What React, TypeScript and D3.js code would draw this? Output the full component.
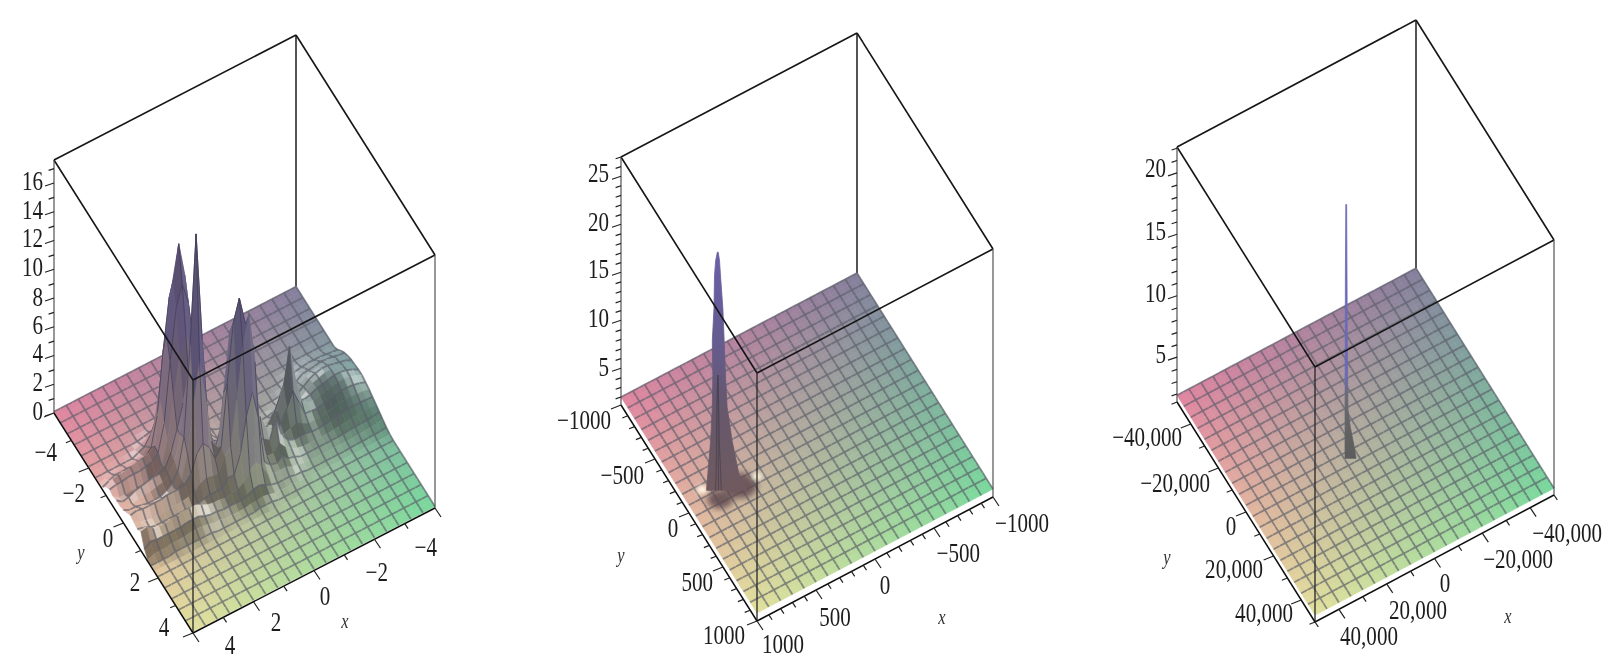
import * as d3 from 'd3';

// grid of the surface: 41 x 41 vertices, a mesh line on every second one
const GRID = 40;

// heights of the first plot, rows for y index 10..28 (flat elsewhere)
const firstBase = 0.1;
const firstFirstRow = 10;
const firstRows: number[][] = [
  [.1,.1,.1,.1,.1,.1,.1,.1,.1,.1, .1,.1,.1,.1,.1,.1,.1,.1,.1,.1, .1,.1,.1,.1,.1,.2,.3,.4,.5,.4, .3,.2,.1,.1,.1,.1,.1,.1,.1,.1,.1],
  [.1,.2,.2,.3,.3,.3,.2,.2,.2,.1, .1,.1,.1,.1,.1,.1,.1,.1,.1,.1, .1,.1,.1,.1,.3,.5,.8,1.1,1.3,1.1, .8,.5,.3,.1,.1,.1,.1,.1,.1,.1,.1],
  [.3,.35,.4,.45,.45,.45,.4,.3,.25,.2, .1,.1,.1,.1,.1,.1,.1,.1,.1,.1, .1,.1,.1,.3,.6,1.2,2,3,3.5,3, 2,1.1,.5,.3,.1,.1,.1,.1,.1,.1,.1],
  [.6,.7,.75,.8,.8,.75,.7,.6,.4,.3, .2,.1,.1,.1,.1,.1,.1,.1,.1,.1, .1,.1,.1,.4,.9,2,4.5,7.5,9,7.5, 4.5,2,.9,.5,.4,.4,.4,.3,.3,.2,.1],
  [.85,.9,1,1.05,1.1,1,.95,.9,.6,.4, .25,.15,.1,.1,.1,.1,.1,.1,.1,.1, .1,.1,.3,.6,1.2,3.2,7.5,11,12.5,11, 7.5,3.2,1.2,.8,.7,.6,.6,.6,.6,.4,.2],
  [1,1.1,1.3,1.4,1.4,1.3,1.2,1.1,.8,.6, .35,.2,.2,.1,.1,.1,.1,.1,.1,.1, .1,.1,.3,.7,1.5,4.5,9,12.5,14.9,12.5, 9,4.5,1.7,1.4,1.3,1.2,1.1,1,1,.9,.6],
  [1.1,1.3,1.4,1.5,1.6,1.6,1.5,1.3,1,.7, .5,.4,.4,.3,.2,.2,.2,.2,.2,.2, .2,.2,.4,.8,1.6,3.4,7.5,11,12.5,11, 7.5,3.4,1.6,1.2,1.1,1,1,1,.9,.9,.8],
  [1.15,1.4,1.55,1.65,1.7,1.7,1.55,1.4,1.1,.8, .8,1,1,.8,.5,.3,.3,.3,.4,.4, .4,.4,.6,1,1.4,2.6,5.5,8,9.5,8, 5.5,2.6,1.1,.7,.5,.4,.4,.4,.4,.4,.7],
  [1.2,1.45,1.6,1.7,1.7,1.6,1.5,1.4,1.2,1.1, 1.2,2.2,3.2,2.2,1.2,.6,.5,.5,.6,.6, .7,.8,1,1.3,1.5,2.2,3.6,5.2,6.2,5.2, 3.6,2.2,1.3,1.1,1.1,1,.9,.8,.6,.5,.8],
  [1.2,1.4,1.55,1.6,1.6,1.5,1.4,1.3,1.2,1.2, 1.6,3.3,5.8,3.3,1.7,1,.8,.8,1,1.1, 1.4,1.6,2.4,2,1.5,1.9,3.6,6.8,10,6.8, 3.6,1.9,1.2,.9,.8,.7,.7,.6,.5,.5,.8],
  [1.1,1.25,1.35,1.4,1.4,1.3,1.2,1.1,1,1.05, 1.1,2.1,3.1,2.1,1.2,.9,1,1.2,1.5,1.6, 3,6,7,6,3,1.8,3.8,10,17.5,10, 3.8,1.7,1,.7,.5,.5,.5,.6,.7,.7,.9],
  [1,1.05,1.1,1.15,1.15,1.1,1,.9,.8,.8, .8,1,1.3,1.1,.9,1,1.7,2,3,2.4, 5.5,9,10.5,10,6,2.4,3,6.2,9,6.2, 3,1.4,1,.9,.8,.8,.8,.9,1,1,1.1],
  [.85,.88,.9,.9,.9,.85,.8,.7,.6,.6, .6,.7,.7,.7,.9,1.5,2.8,1.5,1.8,2.2, 7,10.5,12.5,11,7,2.8,2.2,3.2,3.7,3.2, 2,1.5,1.4,1.4,1.4,1.3,1.3,1.3,1.3,1.4,1.3],
  [.7,.68,.65,.62,.6,.55,.5,.45,.4,.4, .4,.4,.4,.5,.7,1,1.5,1,1,2, 8,11.5,9.5,6,3,2.5,1.5,1.6,1.7,1.5, 1.1,1,.9,.9,.9,.8,.8,.8,.9,1,1.2],
  [.55,.5,.45,.42,.4,.37,.33,.3,.3,.3, .3,.3,.3,.3,.5,.6,1,.7,.8,1.2, 4.5,6.5,5,2.6,1.4,1.4,.9,.9,.9,.8, .7,.7,.7,.7,.7,.7,.7,.7,.8,1,1.1],
  [.4,.35,.3,.28,.25,.22,.2,.2,.2,.2, .2,.2,.2,.2,.3,.4,.6,.6,.6,.7, 1.5,2,1.6,1,.8,.7,.6,.7,.7,.8, 1,1.2,1.2,1.2,1.1,1.1,1,1,1.1,1.4,1.3],
  [.25,.2,.18,.17,.15,.15,.12,.1,.1,.1, .1,.1,.1,.1,.2,.2,.3,.3,.3,.4, .6,.8,.7,.5,.4,.4,.4,.4,.5,.5, .6,.8,.8,.8,.7,.7,.7,.7,.7,.8,.5],
  [.15,.12,.1,.1,.1,.1,.1,.1,.1,.1, .1,.1,.1,.1,.1,.1,.2,.2,.2,.2, .3,.4,.3,.3,.2,.2,.2,.2,.3,.3, .4,.5,.5,.5,.4,.4,.4,.3,.3,.3,.1],
  [.1,.1,.1,.1,.1,.1,.1,.1,.1,.1, .1,.1,.1,.1,.1,.1,.1,.1,.1,.1, .2,.2,.2,.1,.1,.1,.1,.1,.1,.1, .2,.2,.2,.2,.2,.2,.2,.1,.1,.1,.1],
];

// spike of the second plot: height level, extent left and right of its centre (x units)
const secondLevels = [26.1, 25.2, 23.7, 20.2, 16.8, 13.3, 9.9, 6.4, 3, 1.3];
const secondLeft = [3, 12, 18, 21, 30, 27, 30, 39, 54, 61];
const secondRight = [2, 9, 14, 27, 34, 41, 50, 77, 113, 158];
// shadow and glint patches round its foot
const secondPatchX = [600, 780, 855, 453];
const secondPatchY = [50, 75, -60, 50];
const secondPatchR = [95, 70, 30, 28];
const secondPatchKind = ['dark', 'dark', 'light', 'light'];

// spike of the third plot
const thirdLevels = [21.9, 16, 10.6, 5.2, 3.85, 2.5, 1.25];
const thirdLeft = [60, 170, 210, 260, 260, 260, 260];
const thirdRight = [170, 260, 340, 520, 1100, 1960, 2640];

const firstXTicks = ['4', '2', '0', '−2', '−4'];
const firstYTicks = ['−4', '−2', '0', '2', '4'];
const firstZTicks = ['0', '2', '4', '6', '8', '10', '12', '14', '16'];
const secondXTicks = ['1000', '500', '0', '−500', '−1000'];
const secondYTicks = ['−1000', '−500', '0', '500', '1000'];
const secondZTicks = ['5', '10', '15', '20', '25'];
const thirdXTicks = ['40,000', '20,000', '0', '−20,000', '−40,000'];
const thirdYTicks = ['−40,000', '−20,000', '0', '20,000', '40,000'];
const thirdZTicks = ['5', '10', '15', '20'];

type Spot = [number, number, 'middle' | 'end'];

interface PanelSpec {
  front: [number, number];
  ax: [number, number];
  by: [number, number];
  span: number;
  xRange: number;
  zDomain: [number, number];
  base: number;
  rows?: number[][];
  rowOffset?: number;
  xMajor: number;
  xMinor: number;
  zMajor: number;
  zMinor: number;
  xLabels: string[];
  yLabels: string[];
  zLabels: string[];
  xSpots: Spot[];
  ySpots: Spot[];
  zSpots: Spot[];
  xName: [number, number];
  yName: [number, number];
  spike?: { x: number; y: number; levels: number[]; left: number[]; right: number[]; stops: [number, string][]; mesh: number[] };
  patches?: { x: number; y: number; r: number; kind: string }[];
}

const panels: PanelSpec[] = [
  {
    front: [193, 633], ax: [242, -125], by: [-139, -220], span: 253, xRange: 4, zDomain: [0, 17.6],
    base: firstBase, rows: firstRows, rowOffset: firstFirstRow,
    xMajor: 2, xMinor: 1, zMajor: 2, zMinor: 1,
    xLabels: firstXTicks, yLabels: firstYTicks, zLabels: firstZTicks,
    xSpots: [[230, 645, 'middle'], [276, 622, 'middle'], [325, 596, 'middle'], [388, 572, 'end'], [437, 547, 'end']],
    ySpots: [[57, 452, 'end'], [85, 493, 'end'], [108, 538, 'middle'], [135, 582, 'middle'], [164, 627, 'middle']],
    zSpots: [411, 382, 353, 325, 297, 267, 238, 210, 181].map((y) => [43, y, 'end'] as Spot),
    xName: [345, 622], yName: [81, 553],
  },
  {
    front: [757, 621], ax: [236, -124], by: [-136, -216], span: 248, xRange: 1000, zDomain: [1.17, 27],
    base: 2,
    xMajor: 500, xMinor: 100, zMajor: 5, zMinor: 1,
    xLabels: secondXTicks, yLabels: secondYTicks, zLabels: secondZTicks,
    xSpots: [[783, 644, 'middle'], [835, 617, 'middle'], [885, 585, 'middle'], [980, 553, 'end'], [1049, 523, 'end']],
    ySpots: [[611, 420, 'end'], [644, 475, 'end'], [673, 528, 'middle'], [713, 582, 'end'], [745, 635, 'end']],
    zSpots: [367, 318, 269, 222, 173].map((y) => [609, y, 'end'] as Spot),
    xName: [942, 618], yName: [621, 556],
    spike: {
      x: 730, y: -44, levels: secondLevels, left: secondLeft, right: secondRight,
      stops: [[0, '#6a5fa6'], [0.38, '#655b90'], [0.62, '#66596f'], [1, '#6f5a5e']], mesh: [-0.45, 0.1, 0.55],
    },
    patches: secondPatchX.map((x, k) => ({ x, y: secondPatchY[k], r: secondPatchR[k], kind: secondPatchKind[k] })),
  },
  {
    front: [1315, 622], ax: [239, -127], by: [-138, -220], span: 255, xRange: 50000, zDomain: [1.35, 22.1],
    base: 1.9,
    xMajor: 20000, xMinor: 10000, zMajor: 5, zMinor: 1,
    xLabels: thirdXTicks, yLabels: thirdYTicks, zLabels: thirdZTicks,
    xSpots: [[1369, 636, 'middle'], [1418, 610, 'middle'], [1445, 583, 'middle'], [1553, 559, 'end'], [1602, 533, 'end']],
    ySpots: [[1182, 437, 'end'], [1210, 483, 'end'], [1231, 526, 'middle'], [1263, 569, 'end'], [1293, 613, 'end']],
    zSpots: [354, 293, 231, 168].map((y) => [1166, y, 'end'] as Spot),
    xName: [1508, 617], yName: [1167, 558],
    spike: {
      x: 7800, y: -600, levels: thirdLevels, left: thirdLeft, right: thirdRight,
      stops: [[0, '#6c6ab8'], [0.68, '#6a6ab4'], [0.76, '#6a6a70'], [1, '#5c5c5c']], mesh: [],
    },
  },
];

// colours of the four corners of the surface
const cornerFront = [226, 224, 156];
const cornerRight = [120, 216, 156];
const cornerLeft = [224, 132, 160];
const cornerBack = [132, 126, 156];
const peakTint = [112, 102, 160];

const FONT = '"Liberation Serif", serif';
const NARROW = 0.78;

const mix = (a: number, b: number, t: number) => a + (b - a) * t;
const gridClamp = (v: number) => Math.max(0, Math.min(GRID, v));

function Panel({ spec, index }: { spec: PanelSpec; index: number }) {
  const { front, ax, by, span, xRange, zDomain, base, rows, rowOffset = 0 } = spec;
  const xFrac = d3.scaleLinear().domain([xRange, -xRange]).range([0, 1]);
  const yFrac = d3.scaleLinear().domain([xRange, -xRange]).range([0, 1]);
  const zPx = d3.scaleLinear().domain(zDomain).range([0, span]);
  const gridX = d3.scaleLinear().domain([0, GRID]).range([-xRange, xRange]);

  const project = (x: number, y: number, z: number): [number, number] => {
    const a = xFrac(x);
    const b = yFrac(y);
    return [front[0] + a * ax[0] + b * by[0], front[1] + a * ax[1] + b * by[1] - zPx(z)];
  };
  const height = (i: number, j: number) => rows?.[gridClamp(j) - rowOffset]?.[gridClamp(i)] ?? base;
  const vertex = (i: number, j: number) => project(gridX(i), gridX(j), height(i, j));
  const path = d3.line();

  const stepPx = (Math.hypot(ax[0], ax[1]) / GRID) * 0.95;
  const zUnit = span / (zDomain[1] - zDomain[0]);

  const cells: JSX.Element[] = [];
  for (let i = 0; i < GRID; i++) {
    for (let j = 0; j < GRID; j++) {
      const h00 = height(i, j);
      const h10 = height(i + 1, j);
      const h01 = height(i, j + 1);
      const h11 = height(i + 1, j + 1);
      // slope over three cells, so the light does not flicker from cell to cell
      const gx = ((height(i + 2, j) + height(i + 2, j + 1) - height(i - 1, j) - height(i - 1, j + 1)) / 6) * zUnit / stepPx;
      const gy = ((height(i, j + 2) + height(i + 1, j + 2) - height(i, j - 1) - height(i + 1, j - 1)) / 6) * zUnit / stepPx;
      const len = Math.hypot(gx, gy, 1);
      const nx = -gx / len;
      const ny = -gy / len;
      const toward = (nx + ny) / Math.SQRT2;
      const side = Math.abs(nx - ny) / Math.SQRT2;

      const a = 1 - (i + 0.5) / GRID;
      const b = 1 - (j + 0.5) / GRID;
      const z = (h00 + h10 + h01 + h11) / 4 - base;
      const t = Math.min(1, Math.max(0, z / 10)) * 0.85;
      const rgb = [0, 1, 2].map((c) =>
        mix(mix(mix(cornerFront[c], cornerRight[c], a), mix(cornerLeft[c], cornerBack[c], a), b), peakTint[c], t),
      );
      const dark = toward > 0 ? 1 - 1 * Math.min(0.42, toward) : 1 + 0.08 * Math.min(1, -toward);
      const glint = Math.exp(-(((side - 0.38) / 0.18) ** 2)) * Math.exp(-((toward / 0.22) ** 2)) * 0.5;
      const steep = Math.min(1, Math.max(0, (len - 1.8) / 2));
      const shade = mix(dark, 0.72 + 0.12 * side, steep);
      const col = rgb.map((v) => mix(Math.min(255, v * shade), 250, glint * (1 - steep)));
      const fill = d3.rgb(col[0], col[1], col[2]).formatRgb();

      const p00 = vertex(i, j);
      const p10 = vertex(i + 1, j);
      const p01 = vertex(i, j + 1);
      const p11 = vertex(i + 1, j + 1);
      cells.push(<path key={`c${i}-${j}`} d={path([p00, p10, p11, p01])! + 'Z'} fill={fill} stroke={fill} strokeWidth={0.6} />);
      let mesh = '';
      if (i % 2 === 0) mesh += path([p00, p01]);
      if (j % 2 === 0) mesh += path([p00, p10]);
      if (mesh) {
        const thin = steep > 0.2;
        cells.push(
          <path
            key={`m${i}-${j}`}
            d={mesh}
            fill="none"
            stroke={thin ? '#423d55' : '#5a5c68'}
            strokeWidth={thin ? 1 : 1.8}
            strokeOpacity={thin ? 0.7 : 0.66}
          />,
        );
      }
    }
  }

  const [xMin, xMax] = [-xRange, xRange];
  const [zMin, zMax] = zDomain;
  const F = project(xMax, xMax, zMin);
  const R = project(xMin, xMax, zMin);
  const L = project(xMax, xMin, zMin);
  const FT = project(xMax, xMax, zMax);
  const RT = project(xMin, xMax, zMax);
  const LT = project(xMax, xMin, zMax);
  const BT = project(xMin, xMin, zMax);
  const BB = project(xMin, xMin, base);

  const ticks: string[] = [];
  const onMajor = (v: number, m: number) => Math.abs(v / m - Math.round(v / m)) < 1e-6;
  d3.range(xMin, xMax + 1e-6, spec.xMinor).forEach((v) => {
    const k = onMajor(v, spec.xMajor) ? 1 : 0.55;
    const p = project(v, xMax, zMin);
    ticks.push(path([p, [p[0] + 6 * k, p[1] + 9 * k]])!);
    const q = project(xMax, v, zMin);
    ticks.push(path([q, [q[0] - 10 * k, q[1] + 4 * k]])!);
  });
  const zStart = Math.ceil(zMin / spec.zMinor) * spec.zMinor;
  d3.range(zStart, zMax + 1e-6, spec.zMinor).forEach((v) => {
    const k = onMajor(v, spec.zMajor) ? 1 : 0.6;
    const p = project(xMax, xMin, v);
    ticks.push(path([p, [p[0] - 9 * k, p[1] + 3 * k]])!);
  });

  const label = (s: string, at: Spot, key: string) => (
    <text
      key={key}
      transform={`translate(${at[0]},${at[1] + 9}) scale(${NARROW},1)`}
      textAnchor={at[2]}
      fontFamily={FONT}
      fontSize={27}
      fill="#1c1c1c"
    >
      {s}
    </text>
  );
  const axisName = (s: string, at: [number, number]) => (
    <text
      transform={`translate(${at[0]},${at[1] + 6}) scale(${NARROW},1)`}
      textAnchor="middle"
      fontFamily={FONT}
      fontStyle="italic"
      fontSize={21}
      fill="#333"
    >
      {s}
    </text>
  );

  const spike = spec.spike;
  const gradId = `spike-${index}`;
  let spikeD = '';
  let spikeTop = 0;
  let spikeBottom = 0;
  let spikeMesh: string[] = [];
  if (spike) {
    const pxPerUnit = (Math.abs(ax[0]) + Math.abs(by[0])) / (2 * xRange);
    const centre = project(spike.x, spike.y, zMin);
    const area = d3
      .area<number>()
      .x0((_, k) => centre[0] - spike.left[k] * pxPerUnit)
      .x1((_, k) => centre[0] + spike.right[k] * pxPerUnit)
      .y((z) => centre[1] - zPx(z));
    spikeD = area.curve(d3.curveLinear)(spike.levels) ?? '';
    spikeTop = centre[1] - zPx(spike.levels[0]);
    spikeBottom = centre[1] - zPx(spike.levels[spike.levels.length - 1]);
    spikeMesh = spike.mesh.map(
      (m) =>
        d3
          .line<number>()
          .x((_, k) => centre[0] + (m < 0 ? spike.left[k] * m : spike.right[k] * m) * pxPerUnit)
          .y((z) => centre[1] - zPx(z))(spike.levels.slice(5)) ?? '',
    );
  }

  return (
    <g>
      <g filter="url(#soften)">
        <path d={path([BT, BB])!} fill="none" stroke="#1a1a1a" strokeWidth={1.5} />
      </g>
      <g filter="url(#softer)">
        {cells}
        {spec.patches?.map((p, k) => {
          const c = project(p.x, p.y, base);
          const r = p.r * ((Math.abs(ax[0]) + Math.abs(by[0])) / (2 * xRange));
          return (
            <ellipse
              key={k}
              cx={c[0]}
              cy={c[1]}
              rx={r}
              ry={r * 0.72}
              fill={p.kind === 'dark' ? '#5d4a50' : '#fffbe6'}
              opacity={p.kind === 'dark' ? 0.85 : 0.95}
              filter={`url(#soft-${p.kind})`}
            />
          );
        })}
        {spike && (
          <>
            <linearGradient id={gradId} gradientUnits="userSpaceOnUse" x1={0} x2={0} y1={spikeTop} y2={spikeBottom}>
              {spike.stops.map(([o, c]) => (
                <stop key={o} offset={o} stopColor={c} />
              ))}
            </linearGradient>
            <path d={spikeD} fill={`url(#${gradId})`} stroke={`url(#${gradId})`} strokeWidth={0.8} />
            {spikeMesh.map((d, k) => (
              <path key={k} d={d} fill="none" stroke="#453c4c" strokeWidth={1} strokeOpacity={0.7} />
            ))}
          </>
        )}
      </g>
      <g filter="url(#soften)">
        <path d={path([LT, BT])! + path([BT, RT])! + path([LT, FT])! + path([RT, FT])!} fill="none" stroke="#161616" strokeWidth={1.6} />
        <path d={path([FT, F])!} fill="none" stroke="#222" strokeWidth={1.3} />
        <path d={path([LT, L])! + path([RT, R])!} fill="none" stroke="#444" strokeWidth={1.1} />
        <path d={path([L, F])! + path([F, R])!} fill="none" stroke="#111" strokeWidth={1.5} />
        <path d={ticks.join('')} fill="none" stroke="#222" strokeWidth={1.2} />
        {spec.xLabels.map((s, k) => label(s, spec.xSpots[k], `x${k}`))}
        {spec.yLabels.map((s, k) => label(s, spec.ySpots[k], `y${k}`))}
        {spec.zLabels.map((s, k) => label(s, spec.zSpots[k], `z${k}`))}
        {axisName('x', spec.xName)}
        {axisName('y', spec.yName)}
      </g>
    </g>
  );
}

export default function App() {
  return (
    <svg width={1617} height={668} style={{ position: 'absolute', left: 0, top: 0, background: '#fff' }}>
      <defs>
        <filter id="soften" filterUnits="userSpaceOnUse" x="0" y="0" width="1617" height="668">
          <feGaussianBlur stdDeviation={0.6} />
        </filter>
        <filter id="softer" filterUnits="userSpaceOnUse" x="0" y="0" width="1617" height="668">
          <feGaussianBlur stdDeviation={0.6} />
        </filter>
        <filter id="soft-dark" x="-50%" y="-50%" width="200%" height="200%">
          <feGaussianBlur stdDeviation={3} />
        </filter>
        <filter id="soft-light" x="-80%" y="-80%" width="260%" height="260%">
          <feGaussianBlur stdDeviation={2} />
        </filter>
      </defs>
      {panels.map((p, k) => (
        <Panel key={k} spec={p} index={k} />
      ))}
    </svg>
  );
}
